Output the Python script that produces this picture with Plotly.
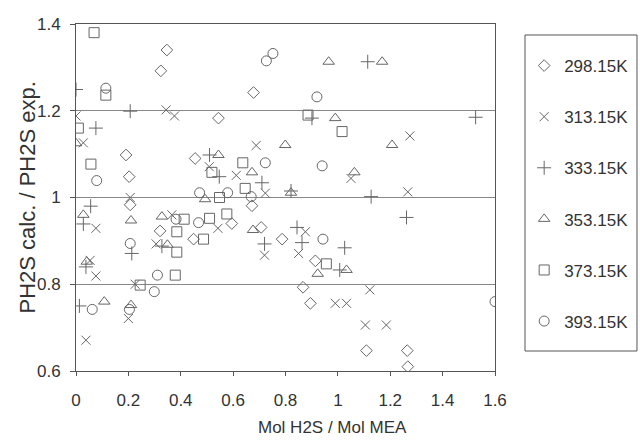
import plotly.graph_objects as go

# ---- data ----
names = ["298.15K", "313.15K", "333.15K", "353.15K", "373.15K", "393.15K"]

x_298 = [0.347, 0.324, 0.678, 0.544, 0.191, 0.203, 0.455, 0.207, 0.672, 0.321, 0.595,
         0.707, 0.449, 0.787, 0.914, 0.867, 0.895, 1.109, 1.265, 1.267]
y_298 = [1.340, 1.292, 1.242, 1.183, 1.098, 1.048, 1.090, 0.983, 0.981, 0.923, 0.940,
         0.931, 0.904, 0.904, 0.854, 0.793, 0.756, 0.647, 0.647, 0.610]

x_313 = [0.0, 0.344, 0.376, 0.028, 0.207, 0.509, 0.688, 0.612, 1.050, 1.275, 1.267,
         0.076, 0.366, 0.542, 0.306, 0.720, 0.876, 0.850, 0.054, 0.076, 0.226, 0.200,
         0.038, 1.122, 0.990, 1.033, 1.105, 1.185, 0.723]
y_313 = [1.188, 1.202, 1.188, 1.126, 1.000, 1.071, 1.120, 1.051, 1.044, 1.142, 1.013,
         0.929, 0.960, 0.929, 0.893, 0.867, 0.921, 0.871, 0.855, 0.819, 0.800, 0.721,
         0.671, 0.787, 0.756, 0.756, 0.706, 0.706, 1.010]

x_333 = [0.0, 0.207, 0.076, 0.510, 0.547, 0.710, 0.901, 1.114, 1.526, 0.821, 1.127,
         1.262, 0.056, 0.028, 0.328, 0.213, 0.038, 0.013, 0.720, 0.844, 0.863, 1.026, 1.007]
y_333 = [1.249, 1.199, 1.160, 1.098, 1.048, 1.034, 1.183, 1.313, 1.185, 1.015, 1.002,
         0.954, 0.980, 0.939, 0.888, 0.871, 0.840, 0.750, 0.893, 0.931, 0.896, 0.884, 0.833]

x_353 = [1.169, 0.965, 0.990, 0.799, 1.207, 0.544, 0.672, 1.063, 0.0, 0.821, 0.493,
         0.028, 0.210, 0.328, 0.349, 0.676, 0.923, 1.033, 0.041, 0.108, 0.210]
y_353 = [1.313, 1.313, 1.183, 1.121, 1.121, 1.098, 1.058, 1.058, 1.125, 1.011, 0.996,
         0.960, 0.947, 0.956, 0.891, 0.925, 0.824, 0.833, 0.852, 0.760, 0.752]

x_373 = [0.069, 0.114, 0.009, 0.057, 0.519, 0.637, 0.886, 1.016, 0.646, 0.548, 0.576,
         0.413, 0.510, 0.385, 0.487, 0.385, 0.379, 0.245, 0.956]
y_373 = [1.380, 1.236, 1.160, 1.077, 1.058, 1.080, 1.190, 1.152, 1.021, 1.000, 0.962,
         0.950, 0.952, 0.921, 0.904, 0.874, 0.821, 0.798, 0.847]

x_393 = [0.114, 0.752, 0.727, 0.920, 0.723, 0.940, 0.079, 0.472, 0.579, 0.669, 0.382,
         0.468, 0.207, 0.943, 0.311, 0.299, 0.062, 0.204, 1.600]
y_393 = [1.252, 1.332, 1.315, 1.232, 1.080, 1.073, 1.039, 1.011, 1.011, 1.002, 0.950,
         0.942, 0.894, 0.904, 0.821, 0.783, 0.742, 0.742, 0.760]

x_ticks = [0, 0.2, 0.4, 0.6, 0.8, 1, 1.2, 1.4, 1.6]
y_ticks = [0.6, 0.8, 1, 1.2, 1.4]
x_title = "Mol H2S / Mol MEA"
y_title = "PH2S calc. / PH2S exp."

series = [
    (x_298, y_298, "diamond-open", 9),
    (x_313, y_313, "x-thin-open", 9),
    (x_333, y_333, "cross-thin-open", 10),
    (x_353, y_353, "triangle-up-open", 10),
    (x_373, y_373, "square-open", 10),
    (x_393, y_393, "circle-open", 10),
]

MARK = "#666666"
AX = "#555555"
TXT = "#333333"
FONT = "Liberation Sans, Arial, sans-serif"

fig = go.Figure()
for (xs, ys, sym, sz), nm in zip(series, names):
    fig.add_trace(go.Scatter(
        x=xs, y=ys, mode="markers", name=nm, legendgroup=nm,
        marker=dict(symbol=sym, size=sz, color=MARK,
                    line=dict(color=MARK, width=1)),
    ))

fig.update_layout(
    width=640, height=443,
    margin=dict(l=76, r=145, t=24, b=72, autoexpand=False),
    paper_bgcolor="white", plot_bgcolor="white",
    font=dict(family=FONT, size=17, color=TXT),
    showlegend=True,
    legend=dict(
        xref="container", yref="container",
        x=0.819, y=0.8916, xanchor="left", yanchor="top",
        borderwidth=0, bgcolor="rgba(0,0,0,0)",
        font=dict(size=17, color=TXT), maxheight=0.95,
        tracegroupgap=26, itemsizing="trace",
    ),
    shapes=[
        dict(type="rect", xref="paper", yref="paper",
             x0=1.0716, x1=1.3389, y0=0.0576, y1=0.9683,
             line=dict(color=AX, width=1), fillcolor="rgba(0,0,0,0)"),
    ],
    xaxis=dict(
        range=[0, 1.6], tickvals=x_ticks, showgrid=False, zeroline=False,
        showline=True, linecolor=AX, linewidth=1, mirror=True,
        ticks="outside", ticklen=4, tickcolor=AX, ticklabelstandoff=10,
        tickfont=dict(size=17),
    ),
    yaxis=dict(
        range=[0.6, 1.4], tickvals=y_ticks, showgrid=True, gridcolor="#888888",
        gridwidth=1, zeroline=False,
        showline=True, linecolor=AX, linewidth=1, mirror=True,
        ticks="outside", ticklen=5, tickcolor=AX, ticklabelstandoff=6,
        tickfont=dict(size=17),
    ),
    annotations=[
        dict(text=x_title, xref="paper", yref="paper", x=0.611, y=-0.164,
             xanchor="center", yanchor="middle", showarrow=False,
             font=dict(size=17, color=TXT)),
        dict(text=y_title, xref="paper", yref="paper", x=-0.1146, y=0.5,
             xanchor="center", yanchor="middle", textangle=-90, showarrow=False,
             font=dict(size=22, color=TXT)),
    ],
)

fig.write_html("out.html")
